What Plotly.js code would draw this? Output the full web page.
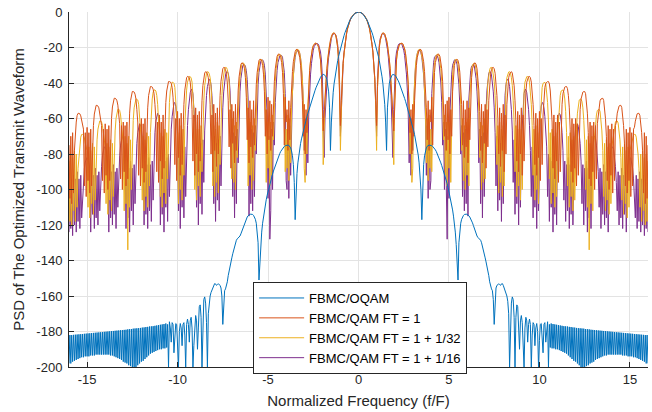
<!DOCTYPE html>
<html>
<head>
<meta charset="utf-8">
<script src="https://cdn.plot.ly/plotly-3.0.1.min.js"></script>
<style>html,body{margin:0;padding:0;background:#fff;}#chart{width:652px;height:412px;}</style>
</head>
<body>
<div id="chart"></div>
<script>
// Normalized frequency grid (positive half, 0 .. 16 step 0.05); spectrum is symmetric
const freqStep = 0.05;
const seriesNames = ["FBMC/OQAM", "FBMC/QAM FT = 1", "FBMC/QAM FT = 1 + 1/32", "FBMC/QAM FT = 1 + 1/16"];
const xTicks = [-15, -10, -5, 0, 5, 10, 15];
const xTickText = ["-15", "-10", "-5", "0", "5", "10", "15"];
const yTicks = [0, -20, -40, -60, -80, -100, -120, -140, -160, -180, -200];
const yTickText = ["0", "-20", "-40", "-60", "-80", "-100", "-120", "-140", "-160", "-180", "-200"];

// PSD (dB), f = 0, 0.05, ..., 16 (one row per unit of f)
const psdOQAM = [
  0,-0.05,-0.2,-0.5,-0.8,-1.3,-1.9,-2.5,-3.3,-4.2,-5.2,-6.3,-7.5,-8.8,-10.2,-11.7,-13.3,-15,-16.8,-18.7,
  -20.7,-22.8,-25,-27.4,-30,-33,-36.5,-40.5,-45.5,-52,-62,-78,-54,-45,-40.5,-38,-36.5,-35.6,-35.2,-35.2,
  -35.5,-36,-36.8,-37.7,-38.8,-40,-41.3,-42.7,-44.1,-45.6,-47.1,-48.7,-50.3,-52,-53.7,-55.4,-57.2,-59,-60.9,-62.8,
  -64.8,-66.9,-69.1,-71.5,-74,-77,-80.5,-85,-91,-100,-117,-96,-86,-81,-78.3,-76.6,-75.6,-75.1,-75,-75.1,
  -75.1,-75.3,-75.7,-76.2,-76.9,-77.7,-78.6,-79.7,-80.9,-82.2,-83.6,-85,-86.5,-88,-89.6,-91.3,-93,-94.8,-96.7,-98.8,
  -101,-103.3,-105.8,-108.5,-111.5,-115,-119,-124,-131,-140,-151,-130,-123,-119,-116.8,-115.4,-114.6,-114.1,-113.9,-113.9,
  -114,-114.3,-114.8,-115.5,-116.4,-117.5,-118.8,-120.3,-122,-123.6,-125,-126.2,-127,-127.4,-127.8,-128.6,-130,-131.8,-133.9,-136.2,
  -138.5,-140.8,-143,-145.5,-148.5,-152,-154.5,-156,-157,-162,-176,-160,-155.5,-154,-153.5,-153.2,-153.5,-154,-153.2,-153,
  -154,-155.5,-156.5,-158,-160,-163,-170,-200,-175,-164,-160.5,-162,-172,-200,-172,-165,-166,-178,-190,-174,
  -171,-175,-188,-200,-178,-172,-174,-186,-176,-173,-176,-200,-182,-175,-176,-188,-178,-175.5,-180,-200,
  -185,-176,-175.5,-182,-192,-176,-175,-186,-178,-174.5,-200,-176,-189,-175.5,-189.5,-175.8,-189.5,-176,-190,-176.2,
  -190,-176.4,-190.5,-176.6,-191,-176.8,-191.5,-177,-192,-177.1,-192.5,-177.2,-193.5,-177.4,-194.5,-177.5,-195.5,-177.7,-196.5,-177.8,
  -197,-178,-198,-178.1,-199,-178.2,-200,-178.3,-200,-178.4,-200,-178.6,-199.5,-178.7,-199,-178.8,-198,-179,-197.5,-179.1,
  -197,-179.2,-196,-179.3,-195.5,-179.4,-195,-179.5,-194.5,-179.6,-194,-179.7,-193.5,-179.8,-193.5,-179.9,-193,-180,-193,-180.1,
  -193,-180.2,-193,-180.3,-193,-180.4,-193,-180.5,-193,-180.6,-193,-180.7,-193.5,-180.8,-193.5,-180.9,-193.5,-181,-194,-181.1,
  -194,-181.2,-194,-181.3,-194.5,-181.4,-194.5,-181.5,-195,-181.6,-195.5,-181.7,-196,-181.8,-196.5,-181.9,-197,-182,-198,-182,
  -198
];

const psdFT1 = [
  0,0,-0.2,-0.4,-0.7,-1.1,-1.6,-2.3,-3.1,-4.2,-5.5,-7,-9,-11.5,-14.5,-18.5,-23,-29,-37,-50,
  -64,-42,-28,-20,-16,-13.5,-12.3,-11.8,-11.9,-12.5,-13.8,-15.8,-18.5,-22,-26.5,-32,-39,-48,-58,-67,
  -50,-35,-27,-22.5,-20,-18.6,-17.9,-17.6,-17.6,-18,-19,-20.8,-23.5,-27.5,-33,-41,-52,-68,-55,-80,
  -52,-70,-50,-38,-30,-25.5,-23,-21.6,-21,-21.2,-22.3,-24.5,-28,-33.5,-42,-54,-72,-50,-78,-55,
  -62,-48,-75,-46,-34,-28.5,-25.5,-24.2,-23.7,-23.9,-25,-27.5,-32,-39,-50,-70,-52,-78,-50,-72,
  -48,-80,-55,-70,-45,-35,-30,-27.8,-26.8,-26.6,-27.3,-29.5,-34,-41,-52,-75,-50,-82,-55,-76,
  -50,-85,-54,-72,-48,-37,-32,-29.8,-28.8,-28.7,-29.5,-32,-36.5,-44,-56,-78,-52,-85,-56,-74,
  -52,-88,-55,-76,-50,-40,-35,-32.4,-31.3,-31.2,-32,-34.5,-39,-47,-60,-80,-54,-87,-57,-78,
  -52,-90,-58,-80,-52,-42,-37,-34.8,-33.8,-33.6,-34.4,-37,-41.5,-50,-62,-84,-56,-90,-58,-80,
  -54,-92,-58,-84,-55,-45,-39.5,-37.2,-36.4,-36.3,-37,-39.5,-44,-52,-64,-86,-57,-92,-60,-82,
  -56,-95,-60,-86,-58,-48,-42.5,-40.2,-39.4,-39.2,-39.2,-40.5,-44.5,-51,-62,-88,-58,-94,-62,-84,
  -58,-96,-62,-90,-60,-52,-46,-43.5,-42.3,-42,-42,-43.2,-47,-54,-66,-90,-60,-96,-63,-88,
  -60,-98,-63,-92,-62,-55,-49,-46.3,-45.1,-44.8,-44.8,-46,-50,-57,-68,-94,-62,-98,-64,-90,
  -62,-100,-64,-94,-63,-58,-52.5,-50,-49,-48.6,-48.6,-49.8,-53.5,-60,-70,-95,-64,-100,-66,-92,
  -63,-102,-66,-95,-64,-62,-57,-54,-53,-52.6,-52.6,-53.8,-57.5,-64,-74,-98,-66,-102,-68,-95,
  -65,-104,-68,-98,-66,-65,-61.5,-58.5,-57.4,-57.1,-57.1,-58.3,-62,-68,-78,-102,-68,-108,-70,-105,
  -75
];

const psdFT32 = [
  0,0,-0.2,-0.4,-0.7,-1.1,-1.6,-2.3,-3.1,-4.2,-5.5,-7,-9,-11.5,-14.5,-18.5,-23,-29,-38,-53,
  -78,-43,-28,-20,-16,-13.5,-12.3,-11.8,-11.9,-12.5,-13.8,-15.8,-18.5,-22,-26.5,-32,-39,-49,-62,-86,
  -50,-35,-27,-22.5,-20,-18.6,-17.9,-17.6,-17.6,-18,-19,-20.8,-23.5,-27.5,-33,-41,-53,-80,-64,-96,
  -88,-50,-38,-30,-25.5,-23,-21.6,-21,-21.2,-22.3,-24.5,-28,-33.5,-42,-54,-85,-60,-95,-58,-88,
  -66,-90,-46,-34,-28.5,-25.5,-24.2,-23.8,-23.9,-25,-27.5,-32,-39,-50,-72,-58,-92,-62,-98,-60,
  -88,-62,-96,-45,-35,-30,-27.8,-26.8,-26.6,-27.3,-29.5,-34,-41,-52,-78,-60,-95,-64,-100,-62,
  -92,-60,-98,-48,-37,-32,-29.8,-28.8,-28.7,-29.5,-32,-36.5,-44,-56,-82,-62,-100,-64,-96,-60,
  -94,-62,-50,-40,-35,-32.4,-31.3,-31.2,-32,-34.5,-39,-47,-60,-86,-64,-102,-62,-96,-66,-104,
  -64,-98,-52,-42,-37,-34.8,-33.8,-33.6,-34.4,-37,-41.5,-50,-62,-90,-64,-104,-66,-98,-62,-106,
  -66,-100,-55,-45,-39.5,-37.2,-36.4,-36.3,-37,-39.5,-44,-52,-64,-92,-66,-106,-64,-100,-68,-108,
  -68,-58,-48,-42.5,-40.2,-39.6,-39.6,-40.5,-44.5,-51,-62,-94,-68,-108,-66,-102,-70,-110,-68,-104,
  -70,-62,-52,-47,-44.5,-43.9,-43.9,-45.2,-49,-56,-68,-98,-70,-110,-68,-104,-72,-112,-70,-106,
  -72,-66,-57,-52,-49.6,-49.1,-49.1,-50.4,-54,-61,-72,-100,-72,-110,-70,-134,-74,-108,-70,-112,
  -74,-70,-63,-58,-55.5,-54.8,-54.8,-56,-60,-67,-78,-104,-74,-112,-72,-106,-76,-114,-74,-108,
  -76,-72,-68,-64,-62,-61.4,-61.4,-62.6,-66,-72,-82,-106,-76,-114,-74,-108,-78,-116,-76,-110,
  -78,-76,-74,-71,-69.5,-69,-69,-70.5,-74,-80,-88,-110,-80,-118,-78,-112,-82,-120,-80,-118,
  -84
];

const psdFT16 = [
  0,0,-0.2,-0.4,-0.7,-1.1,-1.6,-2.3,-3.1,-4.2,-5.5,-7,-9,-11.5,-14.5,-18.5,-23,-29,-38,-52,
  -70,-38,-25,-18.5,-15,-13,-12.2,-12,-12.4,-13.3,-15,-17.5,-21,-25.5,-31,-38,-47,-60,-82,-55,
  -36,-27,-22.5,-20,-18.6,-17.9,-17.7,-17.8,-18.3,-19.5,-21.5,-24.5,-29,-35,-44,-58,-85,-62,-92,-60,
  -78,-52,-39,-31,-26,-23.3,-21.9,-21.5,-21.8,-23,-25.5,-29.5,-35.5,-45,-60,-92,-64,-105,-62,-100,
  -95,-46,-34,-28.5,-25.5,-24.5,-24.3,-24.8,-26,-28.5,-33,-40,-51,-75,-62,-100,-66,-112,-128,-70,
  -105,-58,-45,-35,-30,-27.8,-27,-27,-27.7,-29.8,-34,-41,-53,-80,-64,-104,-68,-112,-66,-108,
  -70,-115,-49,-38,-33,-30.5,-29.7,-29.6,-30.4,-33,-37.5,-45,-57,-85,-66,-108,-70,-116,-68,-104,
  -72,-55,-44,-37.5,-34.5,-33.6,-33.8,-35.5,-39,-45,-54,-68,-98,-70,-112,-72,-106,-74,-118,-70,
  -108,-58,-47,-41,-38.2,-38,-39.2,-42,-47,-55,-67,-96,-72,-114,-74,-108,-76,-120,-72,-110,
  -74,-62,-52,-46,-43.6,-43.8,-45.5,-49,-55,-64,-78,-104,-76,-116,-78,-110,-80,-122,-76,-112,
  -70,-60,-53,-51,-51.5,-54,-59,-66,-76,-104,-80,-118,-82,-110,-84,-124,-80,-114,-84,-120,
  -66,-59,-57,-58,-61.5,-68,-78,-106,-84,-118,-86,-112,-82,-122,-86,-114,-84,-120,-80,-72,
  -66,-63.5,-63,-64.5,-68,-74,-84,-108,-86,-120,-88,-112,-84,-124,-88,-116,-86,-122,-82,-76,
  -71,-70,-71.5,-75,-81,-90,-110,-88,-122,-90,-114,-86,-120,-90,-116,-88,-124,-86,-82,-77,
  -76.5,-76,-77.5,-81,-87,-96,-112,-90,-120,-92,-116,-88,-122,-92,-114,-90,-124,-88,-86,-83,
  -82,-82.5,-84.5,-88,-94,-104,-116,-92,-122,-94,-118,-90,-124,-94,-120,-92,-126,-94,-122,-96,
  -124
];

const seriesColors = ["#0072BD", "#D95319", "#EDB120", "#7E2F8E"];

// mirror the positive half to get the full symmetric spectrum
function fullSpectrum(half) {
  const x = [], y = [];
  for (let i = half.length - 1; i >= 1; i--) { x.push(-Math.round(i * freqStep * 100) / 100); y.push(half[i]); }
  for (let i = 0; i < half.length; i++) { x.push(Math.round(i * freqStep * 100) / 100); y.push(half[i]); }
  return { x, y };
}

const halves = [psdOQAM, psdFT1, psdFT32, psdFT16];
// draw order: FT=1+1/16, FT=1+1/32, FT=1, OQAM on top
const drawOrder = [3, 2, 1, 0];
const traces = drawOrder.map(k => {
  const s = fullSpectrum(halves[k]);
  return {
    type: "scatter", mode: "lines", x: s.x, y: s.y, name: seriesNames[k],
    line: { color: seriesColors[k], width: 1 }, legendrank: k + 1, hoverinfo: "skip"
  };
});

const font = "Liberation Sans, Arial, Helvetica, sans-serif";
const layout = {
  width: 652, height: 412,
  margin: { l: 69, r: 4, t: 12, b: 45 },
  paper_bgcolor: "#ffffff", plot_bgcolor: "#ffffff",
  font: { family: font, color: "#262626", size: 13 },
  showlegend: true,
  legend: {
    x: 0.318, y: 0.2394, xanchor: "left", yanchor: "top",
    bgcolor: "#ffffff", bordercolor: "#262626", borderwidth: 1,
    font: { family: font, size: 13, color: "#000000" }, tracegroupgap: 0, itemwidth: 45
  },
  xaxis: {
    range: [-16, 16], tickmode: "array", tickvals: xTicks, ticktext: xTickText,
    ticks: "inside", ticklen: 5, tickcolor: "#262626", tickfont: { size: 13, color: "#262626" },
    showgrid: true, gridcolor: "#e3e3e3", gridwidth: 1, zeroline: false,
    showline: true, linecolor: "#262626", linewidth: 1, mirror: false,
    title: { text: "Normalized Frequency (f/F)", font: { size: 15, color: "#262626" }, standoff: 9 }
  },
  yaxis: {
    range: [-200, 0], tickmode: "array", tickvals: yTicks, ticktext: yTickText,
    ticks: "inside", ticklen: 5, tickcolor: "#262626", tickfont: { size: 13, color: "#262626" },
    ticklabelstandoff: 3,
    showgrid: true, gridcolor: "#e3e3e3", gridwidth: 1, zeroline: false,
    showline: true, linecolor: "#262626", linewidth: 1, mirror: false,
    title: { text: "PSD of The Optimized Transmit Waveform", font: { size: 15, color: "#262626" }, standoff: 8 }
  }
};

Plotly.newPlot("chart", traces, layout, { displayModeBar: false, staticPlot: true });
</script>
</body>
</html>
